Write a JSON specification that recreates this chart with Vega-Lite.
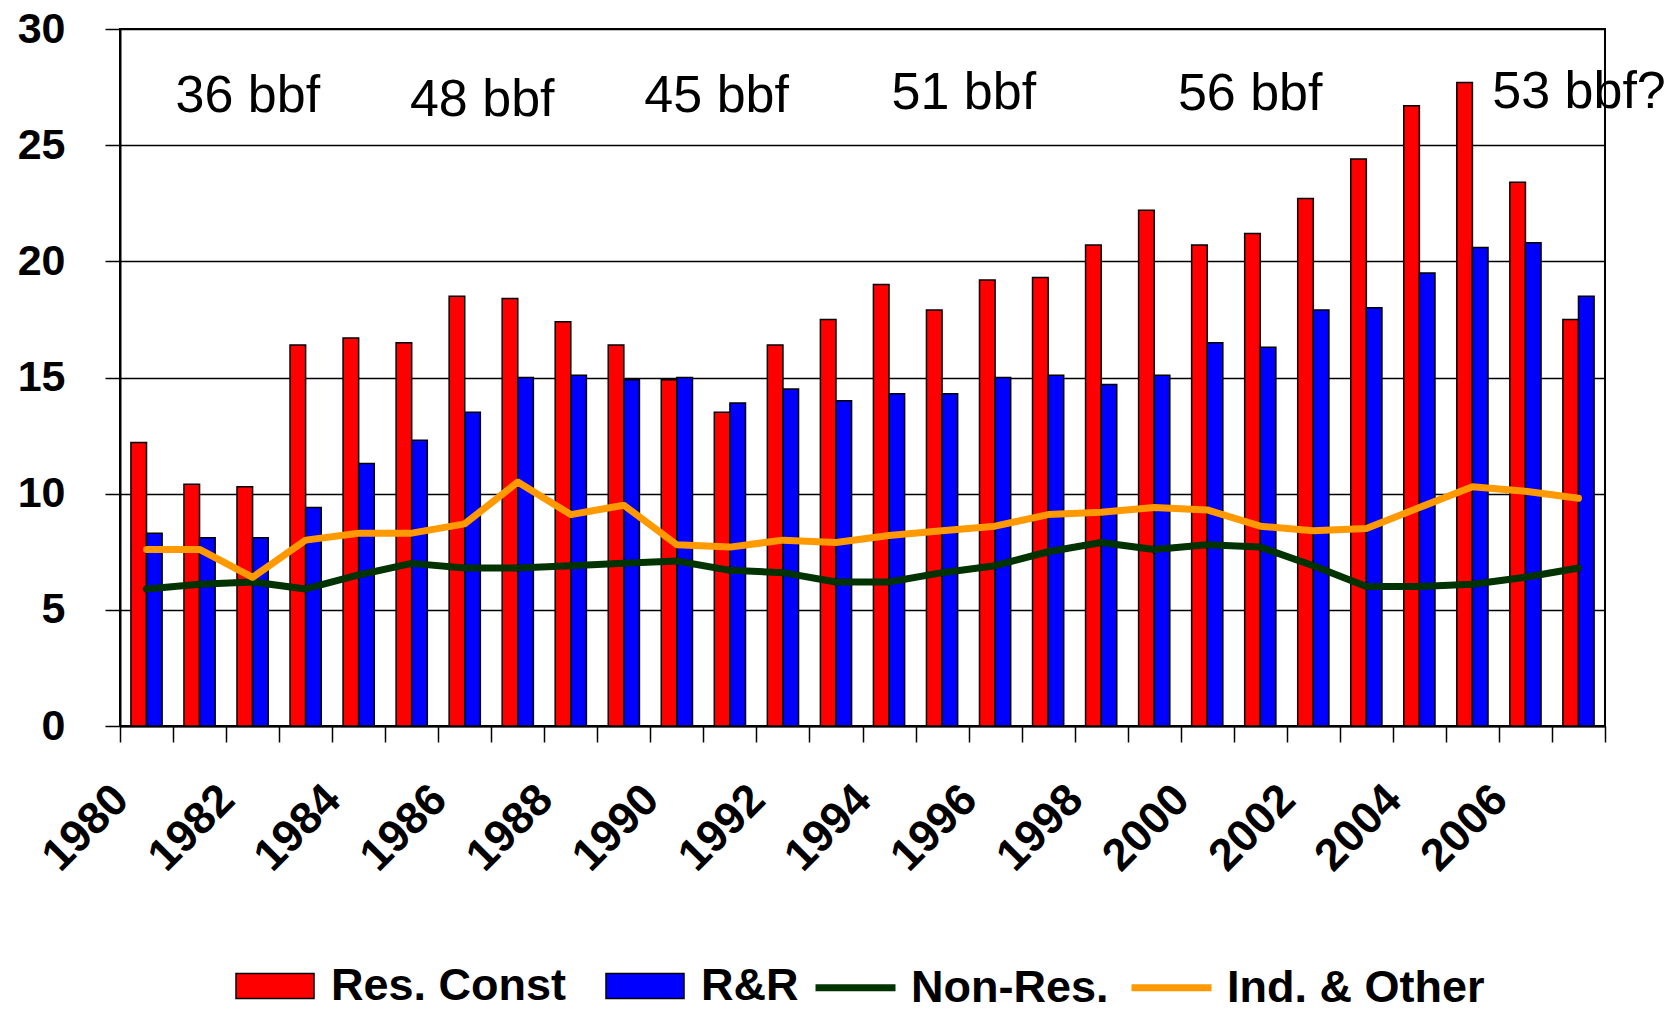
{
  "$schema": "https://vega.github.io/schema/vega-lite/v6.json",
  "width": 1485,
  "height": 697,
  "autosize": {"type": "none"},
  "padding": {"left": 120, "top": 29, "right": 74, "bottom": 288},
  "background": "white",
  "config": {"view": {"stroke": "black", "strokeWidth": 2}, "font": "Liberation Sans"},
  "datasets": {
    "series": [
      {"year": 1980, "series": "Res. Const", "value": 12.2}, {"year": 1980, "series": "R&R", "value": 8.3}, {"year": 1980, "series": "Non-Res.", "value": 5.9}, {"year": 1980, "series": "Ind. & Other", "value": 7.6},
      {"year": 1981, "series": "Res. Const", "value": 10.4}, {"year": 1981, "series": "R&R", "value": 8.1}, {"year": 1981, "series": "Non-Res.", "value": 6.1}, {"year": 1981, "series": "Ind. & Other", "value": 7.6},
      {"year": 1982, "series": "Res. Const", "value": 10.3}, {"year": 1982, "series": "R&R", "value": 8.1}, {"year": 1982, "series": "Non-Res.", "value": 6.2}, {"year": 1982, "series": "Ind. & Other", "value": 6.4},
      {"year": 1983, "series": "Res. Const", "value": 16.4}, {"year": 1983, "series": "R&R", "value": 9.4}, {"year": 1983, "series": "Non-Res.", "value": 5.9}, {"year": 1983, "series": "Ind. & Other", "value": 8.0},
      {"year": 1984, "series": "Res. Const", "value": 16.7}, {"year": 1984, "series": "R&R", "value": 11.3}, {"year": 1984, "series": "Non-Res.", "value": 6.5}, {"year": 1984, "series": "Ind. & Other", "value": 8.3},
      {"year": 1985, "series": "Res. Const", "value": 16.5}, {"year": 1985, "series": "R&R", "value": 12.3}, {"year": 1985, "series": "Non-Res.", "value": 7.0}, {"year": 1985, "series": "Ind. & Other", "value": 8.3},
      {"year": 1986, "series": "Res. Const", "value": 18.5}, {"year": 1986, "series": "R&R", "value": 13.5}, {"year": 1986, "series": "Non-Res.", "value": 6.8}, {"year": 1986, "series": "Ind. & Other", "value": 8.7},
      {"year": 1987, "series": "Res. Const", "value": 18.4}, {"year": 1987, "series": "R&R", "value": 15.0}, {"year": 1987, "series": "Non-Res.", "value": 6.8}, {"year": 1987, "series": "Ind. & Other", "value": 10.5},
      {"year": 1988, "series": "Res. Const", "value": 17.4}, {"year": 1988, "series": "R&R", "value": 15.1}, {"year": 1988, "series": "Non-Res.", "value": 6.9}, {"year": 1988, "series": "Ind. & Other", "value": 9.1},
      {"year": 1989, "series": "Res. Const", "value": 16.4}, {"year": 1989, "series": "R&R", "value": 14.9}, {"year": 1989, "series": "Non-Res.", "value": 7.0}, {"year": 1989, "series": "Ind. & Other", "value": 9.5},
      {"year": 1990, "series": "Res. Const", "value": 14.9}, {"year": 1990, "series": "R&R", "value": 15.0}, {"year": 1990, "series": "Non-Res.", "value": 7.1}, {"year": 1990, "series": "Ind. & Other", "value": 7.8},
      {"year": 1991, "series": "Res. Const", "value": 13.5}, {"year": 1991, "series": "R&R", "value": 13.9}, {"year": 1991, "series": "Non-Res.", "value": 6.7}, {"year": 1991, "series": "Ind. & Other", "value": 7.7},
      {"year": 1992, "series": "Res. Const", "value": 16.4}, {"year": 1992, "series": "R&R", "value": 14.5}, {"year": 1992, "series": "Non-Res.", "value": 6.6}, {"year": 1992, "series": "Ind. & Other", "value": 8.0},
      {"year": 1993, "series": "Res. Const", "value": 17.5}, {"year": 1993, "series": "R&R", "value": 14.0}, {"year": 1993, "series": "Non-Res.", "value": 6.2}, {"year": 1993, "series": "Ind. & Other", "value": 7.9},
      {"year": 1994, "series": "Res. Const", "value": 19.0}, {"year": 1994, "series": "R&R", "value": 14.3}, {"year": 1994, "series": "Non-Res.", "value": 6.2}, {"year": 1994, "series": "Ind. & Other", "value": 8.2},
      {"year": 1995, "series": "Res. Const", "value": 17.9}, {"year": 1995, "series": "R&R", "value": 14.3}, {"year": 1995, "series": "Non-Res.", "value": 6.6}, {"year": 1995, "series": "Ind. & Other", "value": 8.4},
      {"year": 1996, "series": "Res. Const", "value": 19.2}, {"year": 1996, "series": "R&R", "value": 15.0}, {"year": 1996, "series": "Non-Res.", "value": 6.9}, {"year": 1996, "series": "Ind. & Other", "value": 8.6},
      {"year": 1997, "series": "Res. Const", "value": 19.3}, {"year": 1997, "series": "R&R", "value": 15.1}, {"year": 1997, "series": "Non-Res.", "value": 7.5}, {"year": 1997, "series": "Ind. & Other", "value": 9.1},
      {"year": 1998, "series": "Res. Const", "value": 20.7}, {"year": 1998, "series": "R&R", "value": 14.7}, {"year": 1998, "series": "Non-Res.", "value": 7.9}, {"year": 1998, "series": "Ind. & Other", "value": 9.2},
      {"year": 1999, "series": "Res. Const", "value": 22.2}, {"year": 1999, "series": "R&R", "value": 15.1}, {"year": 1999, "series": "Non-Res.", "value": 7.6}, {"year": 1999, "series": "Ind. & Other", "value": 9.4},
      {"year": 2000, "series": "Res. Const", "value": 20.7}, {"year": 2000, "series": "R&R", "value": 16.5}, {"year": 2000, "series": "Non-Res.", "value": 7.8}, {"year": 2000, "series": "Ind. & Other", "value": 9.3},
      {"year": 2001, "series": "Res. Const", "value": 21.2}, {"year": 2001, "series": "R&R", "value": 16.3}, {"year": 2001, "series": "Non-Res.", "value": 7.7}, {"year": 2001, "series": "Ind. & Other", "value": 8.6},
      {"year": 2002, "series": "Res. Const", "value": 22.7}, {"year": 2002, "series": "R&R", "value": 17.9}, {"year": 2002, "series": "Non-Res.", "value": 6.9}, {"year": 2002, "series": "Ind. & Other", "value": 8.4},
      {"year": 2003, "series": "Res. Const", "value": 24.4}, {"year": 2003, "series": "R&R", "value": 18.0}, {"year": 2003, "series": "Non-Res.", "value": 6.0}, {"year": 2003, "series": "Ind. & Other", "value": 8.5},
      {"year": 2004, "series": "Res. Const", "value": 26.7}, {"year": 2004, "series": "R&R", "value": 19.5}, {"year": 2004, "series": "Non-Res.", "value": 6.0}, {"year": 2004, "series": "Ind. & Other", "value": 9.4},
      {"year": 2005, "series": "Res. Const", "value": 27.7}, {"year": 2005, "series": "R&R", "value": 20.6}, {"year": 2005, "series": "Non-Res.", "value": 6.1}, {"year": 2005, "series": "Ind. & Other", "value": 10.3},
      {"year": 2006, "series": "Res. Const", "value": 23.4}, {"year": 2006, "series": "R&R", "value": 20.8}, {"year": 2006, "series": "Non-Res.", "value": 6.4}, {"year": 2006, "series": "Ind. & Other", "value": 10.1},
      {"year": 2007, "series": "Res. Const", "value": 17.5}, {"year": 2007, "series": "R&R", "value": 18.5}, {"year": 2007, "series": "Non-Res.", "value": 6.8}, {"year": 2007, "series": "Ind. & Other", "value": 9.8}
    ],
    "notes": [
      {"label": "36 bbf", "when": 1982.41, "value": 27.1},
      {"label": "48 bbf", "when": 1986.83, "value": 26.95},
      {"label": "45 bbf", "when": 1991.25, "value": 27.1},
      {"label": "51 bbf", "when": 1995.91, "value": 27.24},
      {"label": "56 bbf", "when": 2001.31, "value": 27.2},
      {"label": "53 bbf?", "when": 2007.51, "value": 27.29}
    ]
  },
  "layer": [
    {
      "layer": [
        {
          "data": {"name": "series"},
          "transform": [{"filter": "datum.series == 'Res. Const' || datum.series == 'R&R'"}],
          "mark": {"type": "bar", "stroke": "black", "strokeWidth": 1.5},
          "encoding": {
            "x": {
              "field": "year", "type": "ordinal",
              "scale": {"paddingInner": 0, "paddingOuter": 0},
              "axis": {
                "title": null,
                "tickBand": "extent",
                "labelOffset": -26,
                "labelExpr": "datum.value % 2 == 0 ? datum.label : ''",
                "labelAngle": -45, "labelAlign": "right", "labelBaseline": "middle",
                "labelFont": "Liberation Sans", "labelFontWeight": "bold", "labelFontSize": 45, "labelColor": "black",
                "labelPadding": 50, "labelOverlap": false, "labelBound": false,
                "domainColor": "black", "domainWidth": 2,
                "tickColor": "black", "tickWidth": 1.5, "tickSize": 16
              }
            },
            "xOffset": {"field": "series", "type": "nominal", "sort": ["Res. Const", "R&R"], "scale": {"paddingInner": 0, "paddingOuter": 0.7}},
            "y": {
              "field": "value", "type": "quantitative",
              "scale": {"domain": [0, 30], "nice": false},
              "axis": {
                "title": null, "values": [0, 5, 10, 15, 20, 25, 30],
                "grid": true, "gridColor": "black", "gridWidth": 1.5, "gridOpacity": 1,
                "domainColor": "black", "domainWidth": 2,
                "tickColor": "black", "tickWidth": 1.5, "tickSize": 15,
                "labelFont": "Liberation Sans", "labelFontWeight": "bold", "labelFontSize": 43, "labelColor": "black",
                "labelPadding": 40
              }
            },
            "color": {
              "field": "series", "type": "nominal",
              "scale": {"domain": ["Res. Const", "R&R"], "range": ["#FF0000", "#0000FF"]},
              "legend": {
                "title": null, "orient": "none", "legendX": 115, "legendY": 917, "direction": "horizontal",
                "padding": 0, "labelLimit": 0,
                "labelFont": "Liberation Sans", "labelFontWeight": "bold", "labelFontSize": 45, "labelColor": "black",
                "symbolType": "M-1,-0.32H1V0.32H-1Z", "symbolSize": 6084, "symbolStrokeColor": "black", "symbolStrokeWidth": 1.5,
                "symbolOpacity": 1, "labelOffset": 16, "columnPadding": 36
              }
            }
          }
        },
        {
          "data": {"name": "series"},
          "transform": [{"filter": "datum.series == 'Non-Res.' || datum.series == 'Ind. & Other'"}],
          "mark": {"type": "line", "strokeWidth": 7, "strokeJoin": "round", "strokeCap": "round"},
          "encoding": {
            "x": {"field": "year", "type": "ordinal"},
            "y": {"field": "value", "type": "quantitative"},
            "stroke": {
              "field": "series", "type": "nominal",
              "scale": {"domain": ["Non-Res.", "Ind. & Other"], "range": ["#003300", "#FF9900"]},
              "legend": {
                "title": null, "orient": "none", "legendX": 692, "legendY": 915, "direction": "horizontal",
                "padding": 0, "labelLimit": 0,
                "labelFont": "Liberation Sans", "labelFontWeight": "bold", "labelFontSize": 45, "labelColor": "black",
                "symbolType": "stroke", "symbolSize": 6400, "symbolStrokeWidth": 7, "symbolOpacity": 1,
                "labelOffset": 12, "columnPadding": 8
              }
            }
          }
        }
      ]
    },
    {
      "data": {"name": "notes"},
      "mark": {"type": "text", "fontSize": 52, "font": "Liberation Sans", "color": "black", "baseline": "middle", "align": "center"},
      "encoding": {
        "x": {"field": "when", "type": "quantitative", "scale": {"domain": [1980, 2008], "nice": false, "zero": false}, "axis": null},
        "y": {"field": "value", "type": "quantitative"},
        "text": {"field": "label"}
      }
    }
  ],
  "resolve": {"scale": {"x": "independent"}}
}
